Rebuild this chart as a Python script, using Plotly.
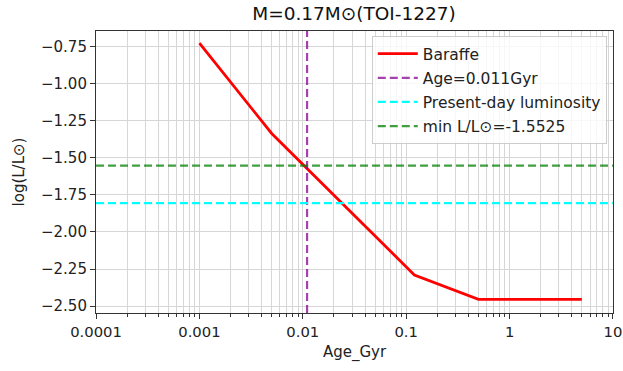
import plotly.graph_objects as go

# Baraffe evolutionary track for a 0.17 Msun star
age_gyr = [0.001, 0.005, 0.12, 0.5, 5.0]
log_lum = [-0.725, -1.335, -2.29, -2.455, -2.455]

age_now = 0.011          # Gyr
lum_present = -1.805     # present-day log(L/Lsun)
lum_min = -1.5525        # minimum log(L/Lsun)

x_range = [1e-4, 10.0]
y_range = [-2.547, -0.643]

x_major = [1e-4, 1e-3, 1e-2, 1e-1, 1, 10]
x_major_text = ["0.0001", "0.001", "0.01", "0.1", "1", "10"]
x_minor = [m * 10.0 ** e for e in range(-4, 1) for m in range(2, 10)]
y_ticks = [-2.5, -2.25, -2.0, -1.75, -1.5, -1.25, -1.0, -0.75]

font_family = "DejaVu Sans"
grid_col = "#d6d6d6"
dash = "8px,4px"

fig = go.Figure()

fig.add_trace(go.Scatter(
    x=age_gyr, y=log_lum, mode="lines", name="Baraffe", legendgroup="a",
    line=dict(color="#ff0000", width=2.8),
))
fig.add_trace(go.Scatter(
    x=[age_now, age_now], y=y_range, mode="lines", name="Age=0.011Gyr",
    legendgroup="b",
    line=dict(color="rgba(140,0,150,0.75)", width=2.2, dash=dash),
))
fig.add_trace(go.Scatter(
    x=x_range, y=[lum_present, lum_present], mode="lines",
    name="Present-day luminosity", legendgroup="c",
    line=dict(color="#00ffff", width=2.2, dash=dash),
))
fig.add_trace(go.Scatter(
    x=x_range, y=[lum_min, lum_min], mode="lines",
    name="min L/L\u2299=-1.5525", legendgroup="d",
    line=dict(color="rgba(0,128,0,0.75)", width=2.2, dash=dash),
))

fig.update_layout(
    width=623, height=371,
    margin=dict(l=96, r=10, t=31, b=58),
    paper_bgcolor="white", plot_bgcolor="white",
    font=dict(family=font_family, size=15, color="#222"),
    title=dict(text="M=0.17M\u2299(TOI-1227)", x=(96 + 258) / 623, xanchor="center",
               y=1 - 14 / 371, yanchor="middle",
               font=dict(size=18.5, color="#111")),
    legend=dict(
        x=0.988, y=0.982, xanchor="right", yanchor="top",
        bgcolor="rgba(255,255,255,0.8)", bordercolor="#cccccc", borderwidth=1,
        font=dict(size=15.5, color="#222"), tracegroupgap=1, itemwidth=40,
    ),
    showlegend=True,
)

fig.update_xaxes(
    type="log", range=[-4.0004, 1.0004], automargin=False,
    tickvals=x_major, ticktext=x_major_text, ticklabeloverflow="allow",
    ticks="outside", ticklen=5, tickwidth=1, tickcolor="#333",
    tickfont=dict(size=14.8),
    showgrid=True, gridcolor=grid_col, gridwidth=1,
    minor=dict(tickvals=x_minor, ticks="outside", ticklen=3, tickcolor="#333",
               showgrid=True, gridcolor=grid_col, gridwidth=1),
    showline=True, linecolor="#333", linewidth=1.1, mirror=True,
    zeroline=False,
    title=dict(text="Age_Gyr", standoff=7, font=dict(size=15)),
)
fig.update_yaxes(
    range=y_range, tickvals=y_ticks, tickformat=".2f", automargin=False,
    ticks="outside", ticklen=5, tickwidth=1, tickcolor="#333",
    tickfont=dict(size=15),
    showgrid=True, gridcolor=grid_col, gridwidth=1,
    showline=True, linecolor="#333", linewidth=1.1, mirror=True,
    zeroline=False,
    title=dict(text="log(L/L\u2299)", standoff=12, font=dict(size=15)),
)

fig.write_html("out.html")
